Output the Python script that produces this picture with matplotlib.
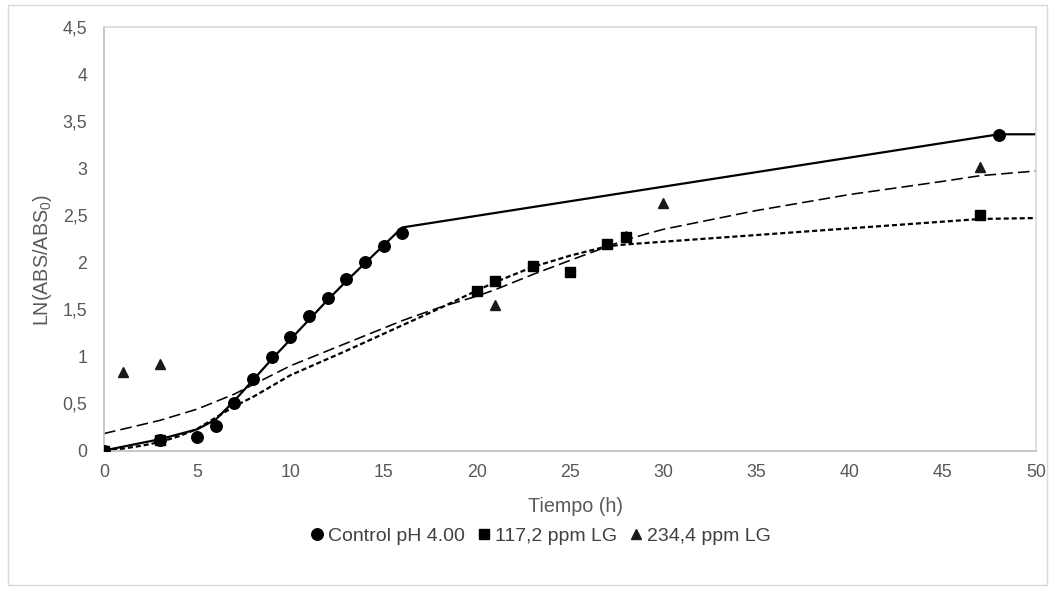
import matplotlib
matplotlib.use("Agg")
import matplotlib.pyplot as plt
from matplotlib.lines import Line2D
from matplotlib.patches import Rectangle
from matplotlib.ticker import FuncFormatter

plt.rcParams['font.family'] = ['Liberation Sans', 'DejaVu Sans']
plt.rcParams['mathtext.fontset'] = 'custom'
plt.rcParams['mathtext.rm'] = 'Liberation Sans'
plt.rcParams['mathtext.it'] = 'Liberation Sans'

# Observed data
t_ctrl = [0, 3, 5, 6, 7, 8, 9, 10, 11, 12, 13, 14, 15, 16, 48]
y_ctrl = [0, 0.11, 0.14, 0.26, 0.51, 0.76, 0.99, 1.21, 1.43, 1.62, 1.82, 2.00, 2.17, 2.31, 3.35]

t_117 = [0, 3, 20, 21, 23, 25, 27, 28, 47]
y_117 = [0, 0.11, 1.70, 1.80, 1.96, 1.90, 2.19, 2.27, 2.50]

t_234 = [0, 1, 3, 21, 28, 30, 47]
y_234 = [0, 0.83, 0.92, 1.55, 2.28, 2.63, 3.01]

# Fitted model curves
tf_ctrl = [0, 3, 5, 6, 7, 8, 9, 10, 11, 12, 13, 14, 15, 16, 48, 50]
yf_ctrl = [0, 0.12, 0.225, 0.33, 0.53, 0.75, 0.97, 1.18, 1.39, 1.60, 1.80, 1.99, 2.18, 2.37, 3.36, 3.36]

tf_117 = [0, 1, 2, 3, 4, 5, 6, 7, 8, 10, 13, 16, 18, 20, 21, 23, 25, 27, 28, 47, 50]
yf_117 = [0, 0.02, 0.05, 0.09, 0.15, 0.23, 0.35, 0.47, 0.57, 0.80, 1.06, 1.33, 1.51, 1.70, 1.79, 1.95, 2.07, 2.17, 2.19, 2.46, 2.47]

tf_234 = [0, 3, 5, 7, 10, 13, 16, 18, 20, 21, 23, 25, 28, 30, 35, 40, 45, 47, 50]
yf_234 = [0.18, 0.32, 0.44, 0.60, 0.90, 1.14, 1.38, 1.52, 1.64, 1.71, 1.87, 2.02, 2.24, 2.35, 2.55, 2.72, 2.86, 2.92, 2.97]

labels = ["Control pH 4.00", "117,2 ppm LG", "234,4 ppm LG"]

W, H = 1052, 593
fig = plt.figure(figsize=(W / 100, H / 100), dpi=100)
ax = fig.add_axes([104 / W, 1 - 450.5 / H, (1036 - 104) / W, (450.5 - 27) / H])

ax.plot(tf_ctrl, yf_ctrl, color='black', lw=1.6, ls='-', zorder=2)
ax.plot(tf_117, yf_117, color='black', lw=1.6, ls=(0, (2.3, 1.3)), zorder=2)
ax.plot(tf_234, yf_234, color='black', lw=1.15, ls=(0, (7.3, 3.2)), zorder=2)

ax.plot(t_234, y_234, ls='none', marker='^', ms=7.5, color='#1a1a1a', zorder=3)
ax.plot(t_ctrl, y_ctrl, ls='none', marker='o', ms=8.3, color='black', zorder=4)
ax.plot(t_117, y_117, ls='none', marker='s', ms=7.6, color='black', zorder=5)

ax.set_xlim(0, 50)
ax.set_ylim(0, 4.5)
ax.set_xticks(range(0, 51, 5))
ax.set_yticks([i * 0.5 for i in range(10)])
fmt = FuncFormatter(lambda v, p: ('%g' % v).replace('.', ','))
ax.yaxis.set_major_formatter(fmt)
ax.tick_params(axis='both', length=0, labelsize=12.8, colors='#595959')
ax.tick_params(axis='x', pad=10)
ax.tick_params(axis='y', pad=12)

for s in ['top', 'right']:
    ax.spines[s].set_color('#d9d9d9')
    ax.spines[s].set_linewidth(1.2)
for s in ['left', 'bottom']:
    ax.spines[s].set_color('#bfbfbf')
    ax.spines[s].set_linewidth(1.2)

fig.text(575 / W, 1 - 507 / H, "Tiempo (h)", fontsize=14.2, color='#595959',
         ha='center', va='center')
fig.text(43 / W, 1 - 260 / H, "LN(ABS/ABS$_0$)", fontsize=14.2, color='#595959',
         ha='center', va='center', rotation=90)

handles = [
    Line2D([], [], ls='none', marker='o', ms=8.3, color='black'),
    Line2D([], [], ls='none', marker='s', ms=7.6, color='black'),
    Line2D([], [], ls='none', marker='^', ms=7.5, color='#1a1a1a'),
]
fig.legend(handles, labels, loc='center', bbox_to_anchor=(541 / W, 1 - 536 / H),
           ncol=3, frameon=False, fontsize=14, handlelength=0.6, handletextpad=0.25,
           columnspacing=0.7, labelcolor='#404040')

fig.add_artist(Rectangle((8 / W, 1 - 585 / H), (1047 - 8) / W, (585 - 5) / H,
                         transform=fig.transFigure, fill=False, edgecolor='#d9d9d9', lw=1))

fig.savefig("out.png", dpi=100, facecolor='white')
